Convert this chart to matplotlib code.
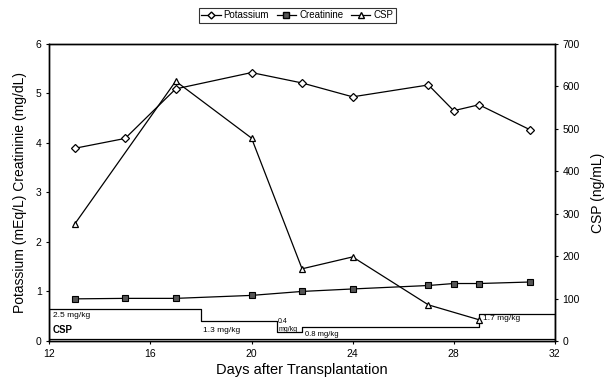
import matplotlib
matplotlib.use("Agg")
import matplotlib.pyplot as plt
from matplotlib.lines import Line2D

plt.rcParams['font.family'] = ['Liberation Sans', 'DejaVu Sans']

# lab values
k_days = [13, 15, 17, 20, 22, 24, 27, 28, 29, 31]
potassium = [3.89, 4.09, 5.09, 5.42, 5.21, 4.93, 5.17, 4.65, 4.77, 4.27]
creatinine = [0.85, 0.86, 0.86, 0.92, 1.0, 1.05, 1.12, 1.16, 1.16, 1.19]

csp_days = [13, 17, 20, 22, 24, 27, 29]
csp_level = [275, 612, 478, 170, 198, 85, 50]

# CSP dose schedule (step box at the bottom)
dose_start = [12, 18, 21, 22, 29]
dose_end = 32
dose_mgkg = [2.5, 1.3, 0.4, 0.8, 1.7]
dose_box = [0.64, 0.41, 0.19, 0.28, 0.55]   # drawn heights on left axis

fig = plt.figure(figsize=(6.09, 3.78), dpi=100)
ax = fig.add_axes([0.081, 0.098, 0.830, 0.786])
ax2 = ax.twinx()

ax.plot(k_days, potassium, color='black', lw=0.9, marker='D', ms=4,
        mfc='white', mec='black', mew=0.9)
ax.plot(k_days, creatinine, color='black', lw=0.9, marker='s', ms=4.5,
        mfc='#555555', mec='black', mew=0.8)
ax2.plot(csp_days, csp_level, color='black', lw=0.9, marker='^', ms=5,
         mfc='white', mec='black', mew=0.9)

# dose step box
xs = dose_start + [dose_end]
ys = dose_box + [dose_box[-1]]
ax.step(xs, ys, where='post', color='black', lw=0.9)
ax.plot([12, 12], [0, dose_box[0]], color='black', lw=0.9)
ax.plot([32, 32], [0, dose_box[-1]], color='black', lw=0.9)
ax.plot([12, 32], [0.03, 0.03], color='black', lw=0.9)

fs = 6
ax.text(12.15, dose_box[0] - 0.05, f'{dose_mgkg[0]} mg/kg', fontsize=fs, va='top')
ax.text(12.15, 0.32, 'CSP', fontsize=7, fontweight='bold', va='top')
ax.text(18.1, 0.29, f'{dose_mgkg[1]} mg/kg', fontsize=fs, va='top')
ax.text(21.05, 0.47, f'{dose_mgkg[2]}\nmg/kg', fontsize=5, va='top', linespacing=1.3)
ax.text(22.1, 0.21, f'{dose_mgkg[3]} mg/kg', fontsize=5.5, va='top')
ax.text(29.15, 0.53, f'{dose_mgkg[4]} mg/kg', fontsize=fs, va='top')

ax.set_xlim(12, 32)
ax.set_ylim(0, 6)
ax2.set_ylim(0, 700)
ax.set_xticks([12, 16, 20, 24, 28, 32])
ax.set_yticks(range(0, 7))
ax2.set_yticks(range(0, 701, 100))
ax.tick_params(labelsize=7.5, length=2, width=0.8)
ax2.tick_params(labelsize=7.5, length=2, width=0.8)
for a in (ax, ax2):
    for s in a.spines.values():
        s.set_linewidth(1.0)

ax.set_xlabel('Days after Transplantation', fontsize=10.5, labelpad=3)
ax.set_ylabel('Potassium (mEq/L) Creatininie (mg/dL)', fontsize=10, labelpad=6)
ax2.set_ylabel('CSP (ng/mL)', fontsize=10, labelpad=8)

handles = [
    Line2D([], [], color='black', lw=0.9, marker='D', ms=3.5, mfc='white', mec='black'),
    Line2D([], [], color='black', lw=0.9, marker='s', ms=4, mfc='#555555', mec='black'),
    Line2D([], [], color='black', lw=0.9, marker='^', ms=4, mfc='white', mec='black'),
]
leg = fig.legend(handles, ['Potassium', 'Creatinine', 'CSP'], loc='center',
                 bbox_to_anchor=(0.488, 0.96), ncol=3, fontsize=7, frameon=True,
                 fancybox=False, edgecolor='black', handlelength=2.0,
                 handletextpad=0.3, columnspacing=0.8, borderpad=0.25)
leg.get_frame().set_linewidth(0.8)

fig.savefig('out.png', dpi=100)
